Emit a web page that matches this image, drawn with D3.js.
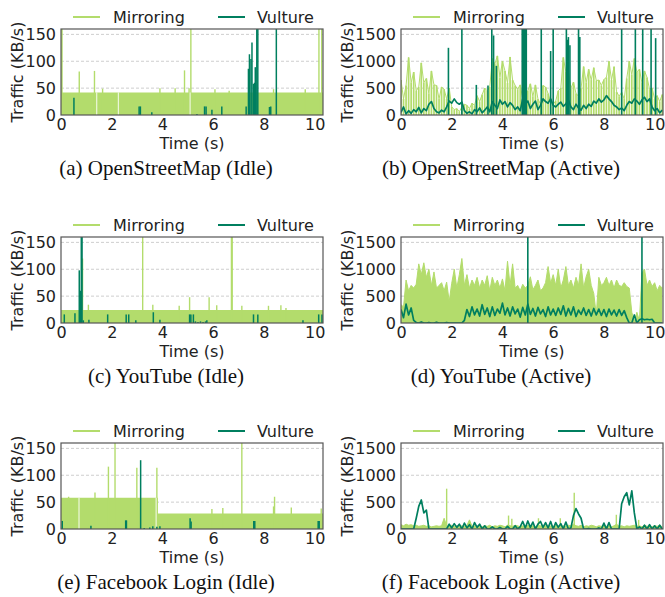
<!DOCTYPE html>
<html>
<head>
<meta charset="utf-8">
<script src="https://cdn.jsdelivr.net/npm/d3@7"></script>
<style>
  body { margin: 0; background: #fff; }
  svg { display: block; }
</style>
</head>
<body>
<svg id="chart" width="665" height="597"></svg>
<script>
// ---- données ----
const seriesNames = ["Mirroring", "Vulture"];
const captions = ["(a) OpenStreetMap (Idle)", "(b) OpenStreetMap (Active)",
                  "(c) YouTube (Idle)", "(d) YouTube (Active)",
                  "(e) Facebook Login (Idle)", "(f) Facebook Login (Active)"];
const timeTicks = [0, 2, 4, 6, 8, 10];
const idleTicks = [0, 50, 100, 150];
const activeTicks = [0, 500, 1000, 1500];
const timeMax = 10.33;
const idleMax = 160;
const activeMax = 1600;
const sampleStep = 0.1;   // pas des séries "Active" (s)

// (a) OpenStreetMap idle : niveau de fond [t, KB/s], pics [t, KB/s], creux (t)
const osmIdleMirrorLevel = [[0, 42], [timeMax, 42]];
const osmIdleMirrorSpikes = [[0.01, 160], [0.04, 160], [0.72, 81], [1.32, 82], [1.64, 49], [3.9, 50], [4.5, 50],
  [4.87, 83], [5.05, 50], [5.12, 160], [6.07, 48], [6.63, 45], [8.38, 48], [9.63, 48], [10.17, 160], [10.28, 160]];
const osmIdleMirrorDips = [1.41, 2.26, 5.09];
const osmIdleVulture = [[0.51, 32], [3.08, 16], [3.13, 16], [3.58, 5], [5.36, 2], [5.66, 16], [5.72, 16], [5.95, 10],
  [6.34, 16], [7.3, 16], [7.39, 86], [7.43, 113], [7.49, 104], [7.53, 135], [7.59, 58], [7.63, 60], [7.66, 89],
  [7.72, 160], [7.76, 160], [8.22, 15], [8.27, 16], [8.49, 160]];

// (c) YouTube idle
const ytIdleMirrorLevel = [[0, 24], [timeMax, 24]];
const ytIdleMirrorSpikes = [[0.85, 120], [1.08, 34], [3.22, 160], [3.62, 34], [4.66, 32], [5.07, 48], [5.84, 48],
  [6.14, 33], [6.72, 160], [6.75, 160], [7.13, 32], [8.18, 32], [8.67, 33], [8.87, 28]];
const ytIdleMirrorDips = [];
const ytIdleVulture = [[0.13, 16], [0.55, 18], [0.72, 98], [0.76, 60], [0.8, 160], [0.83, 160], [0.88, 5], [1.1, 6],
  [1.84, 16], [2.57, 16], [2.67, 16], [2.95, 5], [3.64, 20], [3.9, 6], [5.07, 16], [5.12, 16], [5.22, 16], [5.3, 3],
  [5.4, 2], [5.5, 3], [5.6, 2], [5.7, 3], [5.75, 5], [7.59, 16], [7.76, 16], [9.54, 5], [10.16, 16], [10.29, 16]];

// (e) Facebook Login idle
const fbIdleMirrorLevel = [[0, 58], [3.82, 29], [timeMax, 29]];
const fbIdleMirrorSpikes = [[0.3, 60], [1.34, 68], [1.87, 116], [2.13, 160], [2.99, 114], [3.78, 114], [5.95, 37],
  [6.38, 39], [7.13, 160], [8.38, 42], [8.42, 60], [9.08, 40], [10.26, 38]];
const fbIdleMirrorDips = [0.71, 3.75];
const fbIdleVulture = [[0.05, 15], [1.18, 6], [2.55, 16], [2.58, 16], [3.14, 128], [3.28, 2], [3.5, 3], [3.62, 5],
  [3.78, 4], [3.9, 5], [5.09, 20], [5.13, 14], [7.6, 15], [7.64, 15], [10.14, 15], [10.18, 15]];

// (b) OpenStreetMap active : une valeur toutes les 0,1 s
const osmActMirror = [650, 300, 550, 1070, 600, 800, 450, 520, 970, 600,
  680, 400, 820, 560, 550, 300, 520, 480, 300, 500,
  150, 100, 120, 60, 150, 200, 180, 120, 220, 180,
  360, 250, 380, 500, 450, 520, 1050, 950, 1100, 700,
  1000, 820, 600, 1080, 650, 550, 480, 560, 300, 400,
  450, 580, 350, 560, 300, 200, 550, 520, 400, 240,
  200, 260, 450, 500, 1070, 800, 780, 500, 610, 400,
  350, 500, 900, 600, 850, 650, 880, 640, 650, 550,
  660, 700, 1000, 650, 900, 430, 350, 420, 300, 680,
  1000, 750, 1050, 800, 850, 600, 820, 700, 480, 500,
  300, 360, 250, 380];
const osmActVulture = [50, 150, 20, 80, 30, 100, 60, 140, 40, 120,
  80, 200, 250, 120, 60, 40, 90, 60, 150, 260,
  220, 300, 230, 200, 240, 80, 30, 60, 20, 100,
  60, 130, 40, 90, 150, 60, 250, 180, 120, 280,
  200, 250, 150, 230, 180, 100, 150, 80, 300, 200,
  260, 120, 200, 260, 100, 180, 300, 250, 220, 300,
  180, 150, 200, 240, 160, 210, 280, 150, 100, 200,
  130, 90, 180, 120, 200, 160, 260, 220, 300, 240,
  280, 360, 300, 250, 180, 150, 100, 130, 80, 180,
  250, 220, 300, 260, 200, 280, 330, 250, 300, 150,
  80, 120, 40, 90];
const osmActVultureSpikes = [[1.87, 1250], [2.4, 1600], [2.97, 560], [3.43, 550], [3.58, 1600], [3.65, 1480],
  [3.76, 915], [4.78, 1600], [4.82, 1600], [4.86, 1600], [4.9, 1600], [4.94, 1600], [5.53, 1600], [5.9, 1190],
  [6.0, 1600], [6.52, 1600], [6.56, 1400], [6.6, 1450], [6.66, 1300], [7.0, 1600], [7.05, 1450], [8.7, 1600],
  [9.24, 1600], [9.53, 1600], [9.86, 1600], [10.04, 1430]];

// (d) YouTube active
const ytActMirror = [340, 300, 800, 600, 700, 650, 720, 1100, 900, 1120,
  850, 1000, 700, 950, 650, 700, 750, 600, 760, 400,
  740, 1000, 650, 900, 1200, 700, 900, 650, 800, 700,
  850, 650, 800, 700, 880, 600, 850, 700, 800, 650,
  820, 600, 1150, 700, 1100, 650, 700, 600, 720, 650,
  700, 860, 620, 700, 800, 600, 650, 750, 1050, 740,
  900, 700, 1000, 650, 800, 1050, 700, 800, 650, 850,
  700, 1100, 650, 860, 1000, 700, 550, 150, 850, 700,
  750, 850, 700, 800, 650, 800, 700, 680, 750, 680,
  650, 200, 30, 200, 40, 930, 1000, 700, 800, 680,
  750, 600, 700, 650];
const ytActVulture = [250, 100, 350, 150, 280, 50, 10, 0, 20, 0,
  0, 10, 0, 0, 15, 0, 0, 0, 10, 0,
  0, 0, 0, 0, 0, 50, 250, 120, 300, 150,
  260, 130, 340, 160, 280, 120, 300, 140, 260, 180,
  370, 150, 280, 130, 300, 170, 260, 110, 290, 150,
  350, 160, 270, 130, 290, 170, 250, 120, 300, 150,
  260, 140, 280, 160, 320, 130, 270, 150, 300, 120,
  240, 160, 280, 140, 250, 130, 270, 150, 260, 140,
  250, 120, 260, 150, 240, 130, 250, 140, 230, 100,
  0, 0, 150, 0, 60, 80, 60, 70, 60, 70,
  0, 0, 0, 0];
const ytActVultureSpikes = [[5.0, 1600], [9.5, 1600]];

// (f) Facebook Login active
const fbActMirror = [80, 60, 90, 70, 80, 60, 70, 50, 60, 70,
  50, 60, 40, 50, 60, 50, 60, 200, 60, 40,
  70, 50, 60, 40, 60, 50, 70, 170, 50, 60,
  50, 70, 40, 60, 50, 70, 40, 60, 50, 70,
  60, 40, 70, 60, 50, 70, 60, 40, 60, 50,
  70, 50, 60, 40, 70, 60, 50, 70, 40, 60,
  50, 70, 60, 40, 60, 50, 70, 60, 90, 60,
  50, 70, 40, 60, 50, 70, 60, 40, 60, 50,
  70, 50, 60, 40, 60, 90, 50, 60, 40, 60,
  50, 60, 70, 50, 60, 40, 70, 50, 60, 40,
  60, 50, 70, 40];
const fbActMirrorSpikes = [[1.8, 750], [4.24, 250], [4.37, 190], [5.42, 200], [6.28, 200], [6.83, 675],
  [8.49, 265], [9.37, 170]];
const fbActVulture = [0, 0, 0, 0, 0, 0, 200, 420, 540, 300,
  350, 0, 0, 0, 0, 0, 0, 0, 0, 90,
  20, 100, 30, 90, 0, 110, 20, 80, 0, 120,
  30, 90, 0, 60, 0, 0, 40, 0, 0, 30,
  0, 0, 50, 0, 0, 60, 0, 40, 140, 20,
  150, 30, 130, 0, 90, 140, 30, 120, 20, 140,
  0, 120, 30, 100, 0, 130, 0, 20, 250, 380,
  280, 200, 0, 0, 10, 0, 0, 0, 20, 0,
  110, 0, 120, 0, 0, 0, 0, 470, 600, 675,
  450, 710, 300, 0, 40, 0, 70, 0, 80, 0,
  60, 0, 70, 0];

// ---- mise en page ----
const colMirror = "#b3dc6c";
const colVulture = "#007f5f";
const colLeft = [61, 401];
const rowTop = [29, 237, 443];
const plotW = 262, plotH = 86;

// fill : "bars" = traits verticaux espacés, "area" = aire pleine
const panels = [
  {col: 0, row: 0, kind: "idle", level: osmIdleMirrorLevel, mSpikes: osmIdleMirrorSpikes, dips: osmIdleMirrorDips, vSpikes: osmIdleVulture},
  {col: 1, row: 0, kind: "active", mirror: osmActMirror, mSpikes: [], vulture: osmActVulture, vSpikes: osmActVultureSpikes, fill: "bars"},
  {col: 0, row: 1, kind: "idle", level: ytIdleMirrorLevel, mSpikes: ytIdleMirrorSpikes, dips: ytIdleMirrorDips, vSpikes: ytIdleVulture},
  {col: 1, row: 1, kind: "active", mirror: ytActMirror, mSpikes: [], vulture: ytActVulture, vSpikes: ytActVultureSpikes, fill: "area"},
  {col: 0, row: 2, kind: "idle", level: fbIdleMirrorLevel, mSpikes: fbIdleMirrorSpikes, dips: fbIdleMirrorDips, vSpikes: fbIdleVulture},
  {col: 1, row: 2, kind: "active", mirror: fbActMirror, mSpikes: fbActMirrorSpikes, vulture: fbActVulture, vSpikes: [], fill: "area"}
];

const svg = d3.select("#chart");
const sansFont = "DejaVu Sans, sans-serif";

panels.forEach(function(p, i) {
  const left = colLeft[p.col], top = rowTop[p.row];
  const yMax = p.kind === "idle" ? idleMax : activeMax;
  const yTicks = p.kind === "idle" ? idleTicks : activeTicks;

  const x = d3.scaleLinear().domain([0, timeMax]).range([0, plotW]);
  const y = d3.scaleLinear().domain([0, yMax]).range([plotH, 0]);

  const g = svg.append("g").attr("transform", "translate(" + left + "," + top + ")");

  // grille pointillée
  g.append("g").selectAll("line").data(yTicks.slice(1)).enter().append("line")
    .attr("x1", 0).attr("x2", plotW)
    .attr("y1", d => y(d)).attr("y2", d => y(d))
    .attr("stroke", "#c8c8c8").attr("stroke-width", 0.9).attr("stroke-dasharray", "3,2");

  g.append("clipPath").attr("id", "clip" + i)
    .append("rect").attr("width", plotW).attr("height", plotH);
  const plot = g.append("g").attr("clip-path", "url(#clip" + i + ")");

  const rule = function(data, colour, width) {
    plot.append("g").selectAll("line").data(data).enter().append("line")
      .attr("x1", d => x(d[0])).attr("x2", d => x(d[0]))
      .attr("y1", y(0)).attr("y2", d => y(d[1]))
      .attr("stroke", colour).attr("stroke-width", width);
  };

  if (p.kind === "idle") {
    // fond "plein" du Mirroring
    const area = d3.area().x(d => x(d[0])).y0(y(0)).y1(d => y(d[1])).curve(d3.curveStepAfter);
    plot.append("path").datum(p.level).attr("d", area).attr("fill", colMirror);
    rule(p.mSpikes, colMirror, 1.4);
    // creux blancs dans le fond
    const levelAt = function(t) {
      let v = p.level[0][1];
      p.level.forEach(function(d) { if (d[0] <= t) v = d[1]; });
      return v;
    };
    rule(p.dips.map(t => [t, levelAt(t)]), "#ffffff", 0.9);
    rule(p.vSpikes, colVulture, 1.5);
  } else {
    const pts = function(values) { return values.map((v, k) => [k * sampleStep, v]); };
    const line = d3.line().x(d => x(d[0])).y(d => y(d[1]));
    const area = d3.area().x(d => x(d[0])).y0(y(0)).y1(d => y(d[1]));
    if (p.fill === "area") {
      plot.append("path").datum(pts(p.mirror)).attr("d", area).attr("fill", colMirror);
    } else {
      rule(pts(p.mirror), colMirror, 1.7);
    }
    plot.append("path").datum(pts(p.mirror)).attr("d", line)
      .attr("fill", "none").attr("stroke", colMirror).attr("stroke-width", 1);
    rule(p.mSpikes, colMirror, 1.4);
    plot.append("path").datum(pts(p.vulture)).attr("d", line)
      .attr("fill", "none").attr("stroke", colVulture).attr("stroke-width", 1.7)
      .attr("stroke-linejoin", "round");
    rule(p.vSpikes, colVulture, 1.6);
  }

  // axes
  const axX = g.append("g").attr("transform", "translate(0," + plotH + ")")
    .call(d3.axisBottom(x).tickValues(timeTicks).tickSize(0).tickPadding(4).tickFormat(d3.format("d")));
  const axY = g.append("g")
    .call(d3.axisLeft(y).tickValues(yTicks).tickSize(0).tickPadding(5).tickFormat(d3.format("d")));
  [axX, axY].forEach(function(a) {
    a.select(".domain").remove();
    a.selectAll("text").attr("font-family", sansFont).attr("font-size", 16).attr("fill", "#222");
  });

  // cadre
  g.append("rect").attr("width", plotW).attr("height", plotH)
    .attr("fill", "none").attr("stroke", "#555").attr("stroke-width", 1.2);

  // titres d'axes
  g.append("text")
    .attr("transform", "translate(" + (p.kind === "idle" ? -44 : -54) + "," + (plotH / 2) + ") rotate(-90)")
    .attr("text-anchor", "middle").attr("dominant-baseline", "central")
    .attr("font-family", sansFont).attr("font-size", 16).attr("fill", "#222")
    .text("Traffic (KB/s)");
  g.append("text")
    .attr("x", plotW / 2).attr("y", plotH + 28)
    .attr("text-anchor", "middle").attr("dominant-baseline", "central")
    .attr("font-family", sansFont).attr("font-size", 16).attr("fill", "#222")
    .text("Time (s)");

  // légende
  const leg = g.append("g").attr("transform", "translate(0," + (-12) + ")");
  const legX = [[12, 39, 52], [157, 184, 196]];
  seriesNames.forEach(function(name, k) {
    leg.append("line").attr("x1", legX[k][0]).attr("x2", legX[k][1]).attr("y1", 0).attr("y2", 0)
      .attr("stroke", k === 0 ? colMirror : colVulture).attr("stroke-width", 2);
    leg.append("text").attr("x", legX[k][2]).attr("y", 0).attr("dominant-baseline", "central")
      .attr("font-family", sansFont).attr("font-size", 16).attr("fill", "#222").text(name);
  });

  // légende de sous-figure
  svg.append("text")
    .attr("x", p.col === 0 ? 166 : 501).attr("y", top + plotH + 53)
    .attr("text-anchor", "middle").attr("dominant-baseline", "central")
    .attr("font-family", "Liberation Serif, Times New Roman, serif").attr("font-size", 21).attr("fill", "#111")
    .text(captions[i]);
});
</script>
</body>
</html>
